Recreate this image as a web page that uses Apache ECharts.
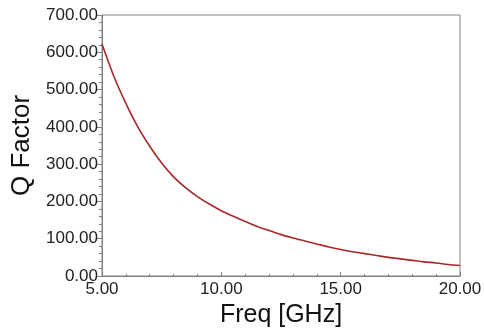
<!DOCTYPE html>
<html>
<head>
<meta charset="utf-8">
<script src="https://cdn.jsdelivr.net/npm/echarts@6/dist/echarts.min.js"></script>
<style>html,body{margin:0;padding:0;background:#fff}#c{width:484px;height:331px}</style>
</head>
<body>
<div id="c"></div>
<script>
var freq = [5, 5.5, 6, 6.5, 7, 7.5, 8, 8.5, 9, 9.5, 10, 10.5, 11, 11.5, 12, 12.5, 13, 13.5, 14, 14.5, 15, 15.5, 16, 16.5, 17, 17.5, 18, 18.5, 19, 19.5, 20];
var qFactor = [622, 535, 463, 400, 348, 303, 266, 237, 213, 193, 175, 160, 146, 133, 122, 111, 102, 94, 86, 78, 71, 65, 60, 55, 50, 46, 42, 38, 35, 31, 28];
var xTitle = 'Freq [GHz]';
var yTitle = 'Q Factor';

var chart = echarts.init(document.getElementById('c'), null, {renderer: 'canvas'});
var axisCol = '#808080';
var txtFont = 'Liberation Sans, Arial, sans-serif';
chart.setOption({
  animation: false,
  grid: {left: 102, top: 15, right: 24, bottom: 55, show: true, borderColor: axisCol, borderWidth: 1,
    containLabel: false, outerBoundsMode: 'none'},
  xAxis: {
    type: 'value', min: 5, max: 20, interval: 5,
    name: xTitle, nameLocation: 'middle', nameGap: 27,
    nameTextStyle: {fontSize: 25, color: '#111', fontFamily: txtFont},
    axisLine: {lineStyle: {color: axisCol, width: 1}},
    axisTick: {show: true, inside: true, length: 4, lineStyle: {color: axisCol}},
    minorTick: {show: true, splitNumber: 5, length: 2, lineStyle: {color: axisCol}},
    splitLine: {show: false},
    axisLabel: {fontSize: 17, color: '#222', fontFamily: txtFont, margin: 5,
      formatter: function (v) { return v.toFixed(2); }}
  },
  yAxis: {
    type: 'value', min: 0, max: 700, interval: 100,
    name: yTitle, nameLocation: 'middle', nameGap: 66, nameRotate: 90,
    nameTextStyle: {fontSize: 26, color: '#111', fontFamily: txtFont},
    axisLine: {show: true, lineStyle: {color: axisCol, width: 1}},
    axisTick: {show: true, length: 5, lineStyle: {color: axisCol}},
    minorTick: {show: true, splitNumber: 5, length: 3, lineStyle: {color: axisCol}},
    splitLine: {show: false},
    axisLabel: {fontSize: 17, color: '#222', fontFamily: txtFont, margin: 4,
      formatter: function (v) { return v.toFixed(2); }}
  },
  series: [{
    type: 'line', smooth: 0.3, showSymbol: false,
    data: freq.map(function (f, i) { return [f, qFactor[i]]; }),
    lineStyle: {color: '#a82828', width: 1.6}
  }]
});
</script>
</body>
</html>
